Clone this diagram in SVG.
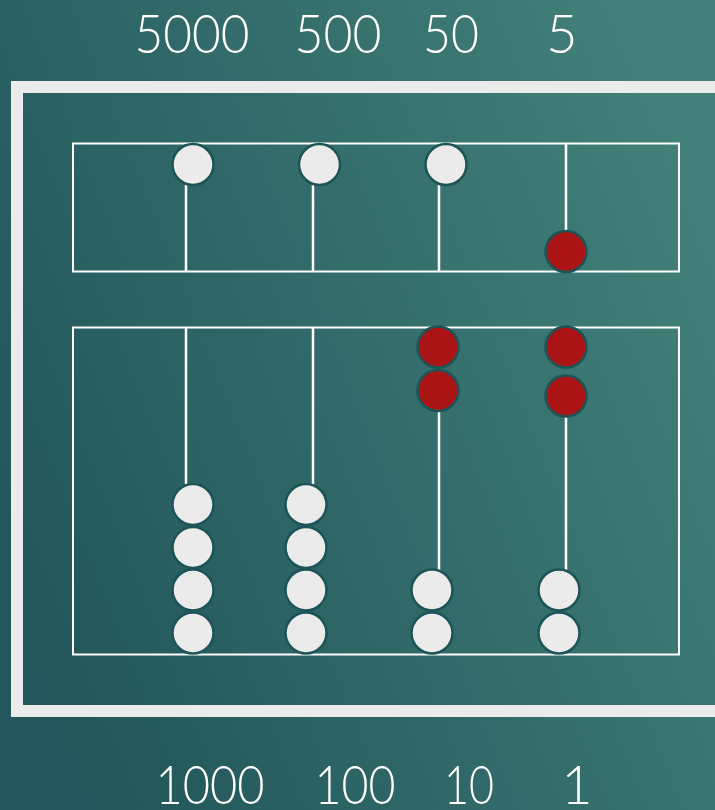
<svg xmlns="http://www.w3.org/2000/svg" width="715" height="810" viewBox="0 0 715 810">
<defs>
<linearGradient id="bg" x1="0" y1="0.7" x2="1" y2="0.25">
<stop offset="0" stop-color="#22565a"/>
<stop offset="0.5" stop-color="#326b69"/>
<stop offset="1" stop-color="#43817a"/>
</linearGradient>
<style>
.lbl{font-family:"Lato","Liberation Sans",sans-serif;font-weight:300;font-size:54px;fill:#ffffff;text-anchor:middle}
.box{fill:none;stroke:#ffffff;stroke-width:2}
.rod{stroke:#ffffff;stroke-width:2.5}
.w{fill:#ebebeb;stroke:#1d5458;stroke-width:2.5}
.r{fill:#ab1414;stroke:#1d5458;stroke-width:2.5}
</style>
</defs>
<rect x="0" y="0" width="715" height="810" fill="url(#bg)"/>
<rect id="frame" x="17" y="87" width="720" height="624" fill="none" stroke="#ebebeb" stroke-width="12"/>
<g id="labels">
<text class="lbl" x="192" y="53" textLength="115" lengthAdjust="spacingAndGlyphs">5000</text>
<text class="lbl" x="338" y="53" textLength="87" lengthAdjust="spacingAndGlyphs">500</text>
<text class="lbl" x="451" y="53" textLength="56" lengthAdjust="spacingAndGlyphs">50</text>
<text class="lbl" x="562" y="53">5</text>
<text class="lbl" x="210" y="804" textLength="109" lengthAdjust="spacingAndGlyphs">1000</text>
<text class="lbl" x="355" y="804" textLength="81" lengthAdjust="spacingAndGlyphs">100</text>
<text class="lbl" x="469" y="804" textLength="50" lengthAdjust="spacingAndGlyphs">10</text>
<text class="lbl" x="577" y="804">1</text>
</g>
<g id="connectors">
<line class="rod" x1="186" y1="180" x2="186" y2="271"/>
<line class="rod" x1="313" y1="180" x2="313" y2="271"/>
<line class="rod" x1="439" y1="180" x2="439" y2="271"/>
<line class="rod" x1="566" y1="143" x2="566" y2="235"/>
<line class="rod" x1="186" y1="327" x2="186" y2="490"/>
<line class="rod" x1="313" y1="327" x2="313" y2="490"/>
<line class="rod" x1="439" y1="405" x2="439" y2="575"/>
<line class="rod" x1="566" y1="410" x2="566" y2="575"/>
</g>
<g id="upper-box"><rect class="box" x="73" y="143.5" width="606" height="128"/></g>
<g id="lower-box"><rect class="box" x="73" y="327.5" width="606" height="327"/></g>
<g id="bead-5000"><circle class="w" cx="193" cy="164.5" r="20.5"/></g>
<g id="bead-500"><circle class="w" cx="319.5" cy="164.5" r="20.5"/></g>
<g id="bead-50"><circle class="w" cx="446" cy="164.5" r="20.5"/></g>
<g id="bead-5"><circle class="r" cx="566" cy="251.5" r="20.5"/></g>
<g id="beads-1000">
<circle class="w" cx="193" cy="504.5" r="20.5"/>
<circle class="w" cx="193" cy="547.5" r="20.5"/>
<circle class="w" cx="193" cy="590" r="20.5"/>
<circle class="w" cx="193" cy="633" r="20.5"/>
</g>
<g id="beads-100">
<circle class="w" cx="306" cy="504.5" r="20.5"/>
<circle class="w" cx="306" cy="547.5" r="20.5"/>
<circle class="w" cx="306" cy="590" r="20.5"/>
<circle class="w" cx="306" cy="633" r="20.5"/>
</g>
<g id="beads-10">
<circle class="r" cx="438" cy="347" r="20.5"/>
<circle class="r" cx="438" cy="390.5" r="20.5"/>
<circle class="w" cx="432" cy="590" r="20.5"/>
<circle class="w" cx="432" cy="633" r="20.5"/>
</g>
<g id="beads-1">
<circle class="r" cx="566" cy="347" r="20.5"/>
<circle class="r" cx="566" cy="396" r="20.5"/>
<circle class="w" cx="559" cy="590" r="20.5"/>
<circle class="w" cx="559" cy="633" r="20.5"/>
</g>
</svg>
